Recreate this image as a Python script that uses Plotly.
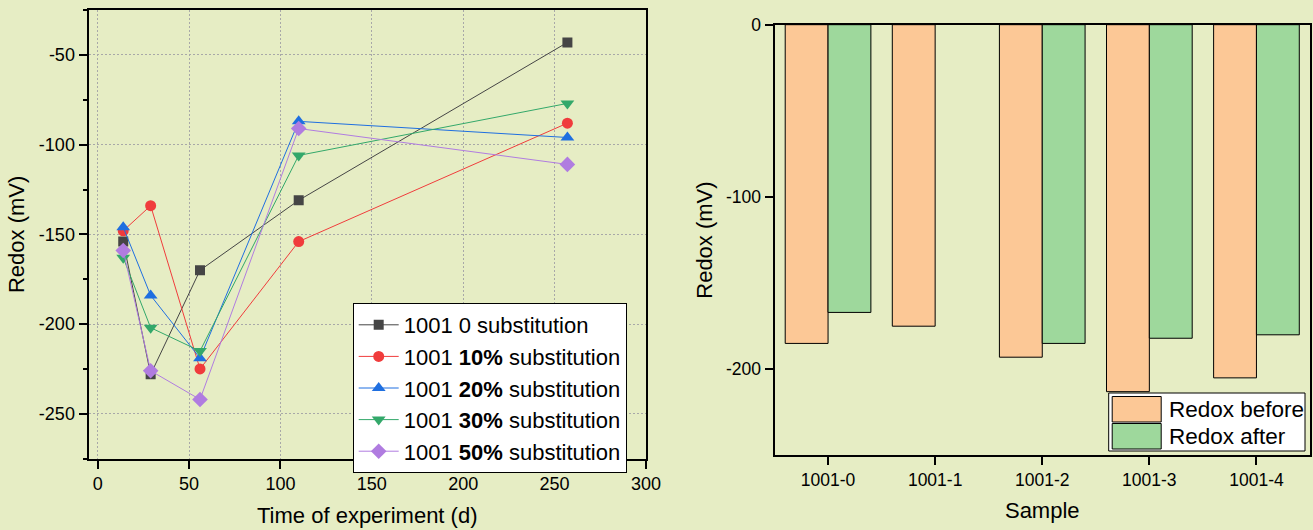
import plotly.graph_objects as go

# ---------------- data ----------------
days = [14, 29, 56, 110, 257]
redox_0 = [-154, -228, -170, -131, -43]
redox_10 = [-148, -134, -225, -154, -88]
redox_20 = [-146, -184, -219, -87, -96]
redox_30 = [-163, -202, -215, -106, -77]
redox_50 = [-159, -226, -242, -91, -111]
series_names = [
    "1001 0 substitution",
    "1001 <b>10%</b> substitution",
    "1001 <b>20%</b> substitution",
    "1001 <b>30%</b> substitution",
    "1001 <b>50%</b> substitution",
]

samples = ["1001-0", "1001-1", "1001-2", "1001-3", "1001-4"]
redox_before = [-185, -175, -193, -213, -205]
redox_after = [-167, None, -185, -182, -180]
bar_names = ["Redox before", "Redox after"]

x_ticks = [0, 50, 100, 150, 200, 250, 300]
y_ticks_left = [-50, -100, -150, -200, -250]
y_ticks_right = [0, -100, -200]

# ---------------- styles ----------------
BG = "#E6EDC4"
FONT = "Liberation Sans, Arial, sans-serif"
line_colors = ["#454545", "#F03C3C", "#1F6FE0", "#33A86A", "#B07CE0"]
symbols = ["square", "circle", "triangle-up", "triangle-down", "diamond"]
msizes = [10, 11, 12, 12, 12]
bar_colors = ["#FCC896", "#9ED89C"]

fig = go.Figure()

for vals, name, col, sym, ms in zip(
    [redox_0, redox_10, redox_20, redox_30, redox_50],
    series_names, line_colors, symbols, msizes,
):
    fig.add_trace(go.Scatter(
        x=days, y=vals, name=name, mode="lines+markers",
        line=dict(color=col, width=1),
        marker=dict(symbol=sym, size=ms, color=col),
        xaxis="x", yaxis="y", legend="legend",
    ))

for vals, name, col in zip([redox_before, redox_after], bar_names, bar_colors):
    fig.add_trace(go.Bar(
        x=samples, y=vals, name=name,
        marker=dict(color=col, line=dict(color="black", width=1)),
        xaxis="x2", yaxis="y2", showlegend=False,
    ))

W, H = 1313, 530
def fx(px):
    return px / W
def fy(py):
    return (H - py) / H

axis_common = dict(
    showline=True, linecolor="black", linewidth=2, mirror=True,
    ticks="outside", ticklen=8, tickwidth=1.5, tickcolor="black",
    zeroline=False, automargin=False,
)
GRID = dict(showgrid=True, gridcolor="#A8A8A8", griddash="2px,2px", gridwidth=1)

# ---- manual legend for the bar chart (large swatches like the original) ----
lg_left, lg_right, lg_top, lg_bottom = 1108.7, 1305, 393, 451
fig.add_shape(type="rect", xref="paper", yref="paper",
              x0=fx(lg_left), x1=fx(lg_right), y0=fy(lg_bottom), y1=fy(lg_top),
              fillcolor="white", line=dict(color="black", width=1), layer="above")
row_h = (lg_bottom - lg_top - 4) / len(bar_names)
for i, (name, col) in enumerate(zip(bar_names, bar_colors)):
    top = lg_top + 3 + i * row_h
    fig.add_shape(type="rect", xref="paper", yref="paper",
                  x0=fx(lg_left + 3.5), x1=fx(lg_left + 52.5),
                  y0=fy(top + row_h - 1), y1=fy(top + 0.5),
                  fillcolor=col, line=dict(color="black", width=1), layer="above")
    fig.add_annotation(xref="paper", yref="paper", x=fx(lg_left + 58), y=fy(top + row_h / 2),
                       xanchor="left", yanchor="middle", text=name, showarrow=False,
                       font=dict(family=FONT, size=22.5, color="black"))

fig.update_layout(
    width=W, height=H,
    margin=dict(l=0, r=0, t=0, b=0, autoexpand=False),
    paper_bgcolor=BG, plot_bgcolor=BG,
    font=dict(family=FONT, color="black"),
    barmode="group", bargap=0.2, bargroupgap=0,
    xaxis=dict(
        domain=[fx(88.5), fx(646)], anchor="y",
        range=[-5, 300], tickvals=x_ticks, ticktext=[str(v) for v in x_ticks],
        tickfont=dict(family=FONT, size=18, color="black"),
        title=dict(text="Time of experiment (d)", font=dict(family=FONT, size=22), standoff=14),
        **GRID, **axis_common,
    ),
    yaxis=dict(
        domain=[fy(458.7), fy(10.1)], anchor="x",
        range=[-275, -25], tickvals=y_ticks_left, ticktext=[str(v) for v in y_ticks_left],
        tickfont=dict(family=FONT, size=18, color="black"),
        minor=dict(dtick=25, tick0=-25, ticks="outside", ticklen=4, tickcolor="black", tickwidth=1.5, showgrid=False),
        title=dict(text="Redox (mV)", font=dict(family=FONT, size=22), standoff=8),
        **GRID, **axis_common,
    ),
    xaxis2=dict(
        domain=[fx(774.5), fx(1310)], anchor="y2",
        range=[-0.5, 4.5], type="category",
        showgrid=False,
        tickfont=dict(family=FONT, size=17.5, color="black"),
        title=dict(text="Sample", font=dict(family=FONT, size=22), standoff=13),
        **axis_common,
    ),
    yaxis2=dict(
        domain=[fy(455.4), fy(24.7)], anchor="x2",
        range=[-250, 0], tickvals=y_ticks_right, ticktext=[str(v) for v in y_ticks_right],
        showgrid=False,
        tickfont=dict(family=FONT, size=17.5, color="black"),
        title=dict(text="Redox (mV)", font=dict(family=FONT, size=22), standoff=7),
        **axis_common,
    ),
    legend=dict(
        x=fx(352.7), y=fy(303), xanchor="left", yanchor="top",
        bgcolor="white", bordercolor="black", borderwidth=1,
        font=dict(family=FONT, size=22, color="black"),
        tracegroupgap=0, itemwidth=40,
    ),
    showlegend=True,
)

fig.write_html("out.html")
